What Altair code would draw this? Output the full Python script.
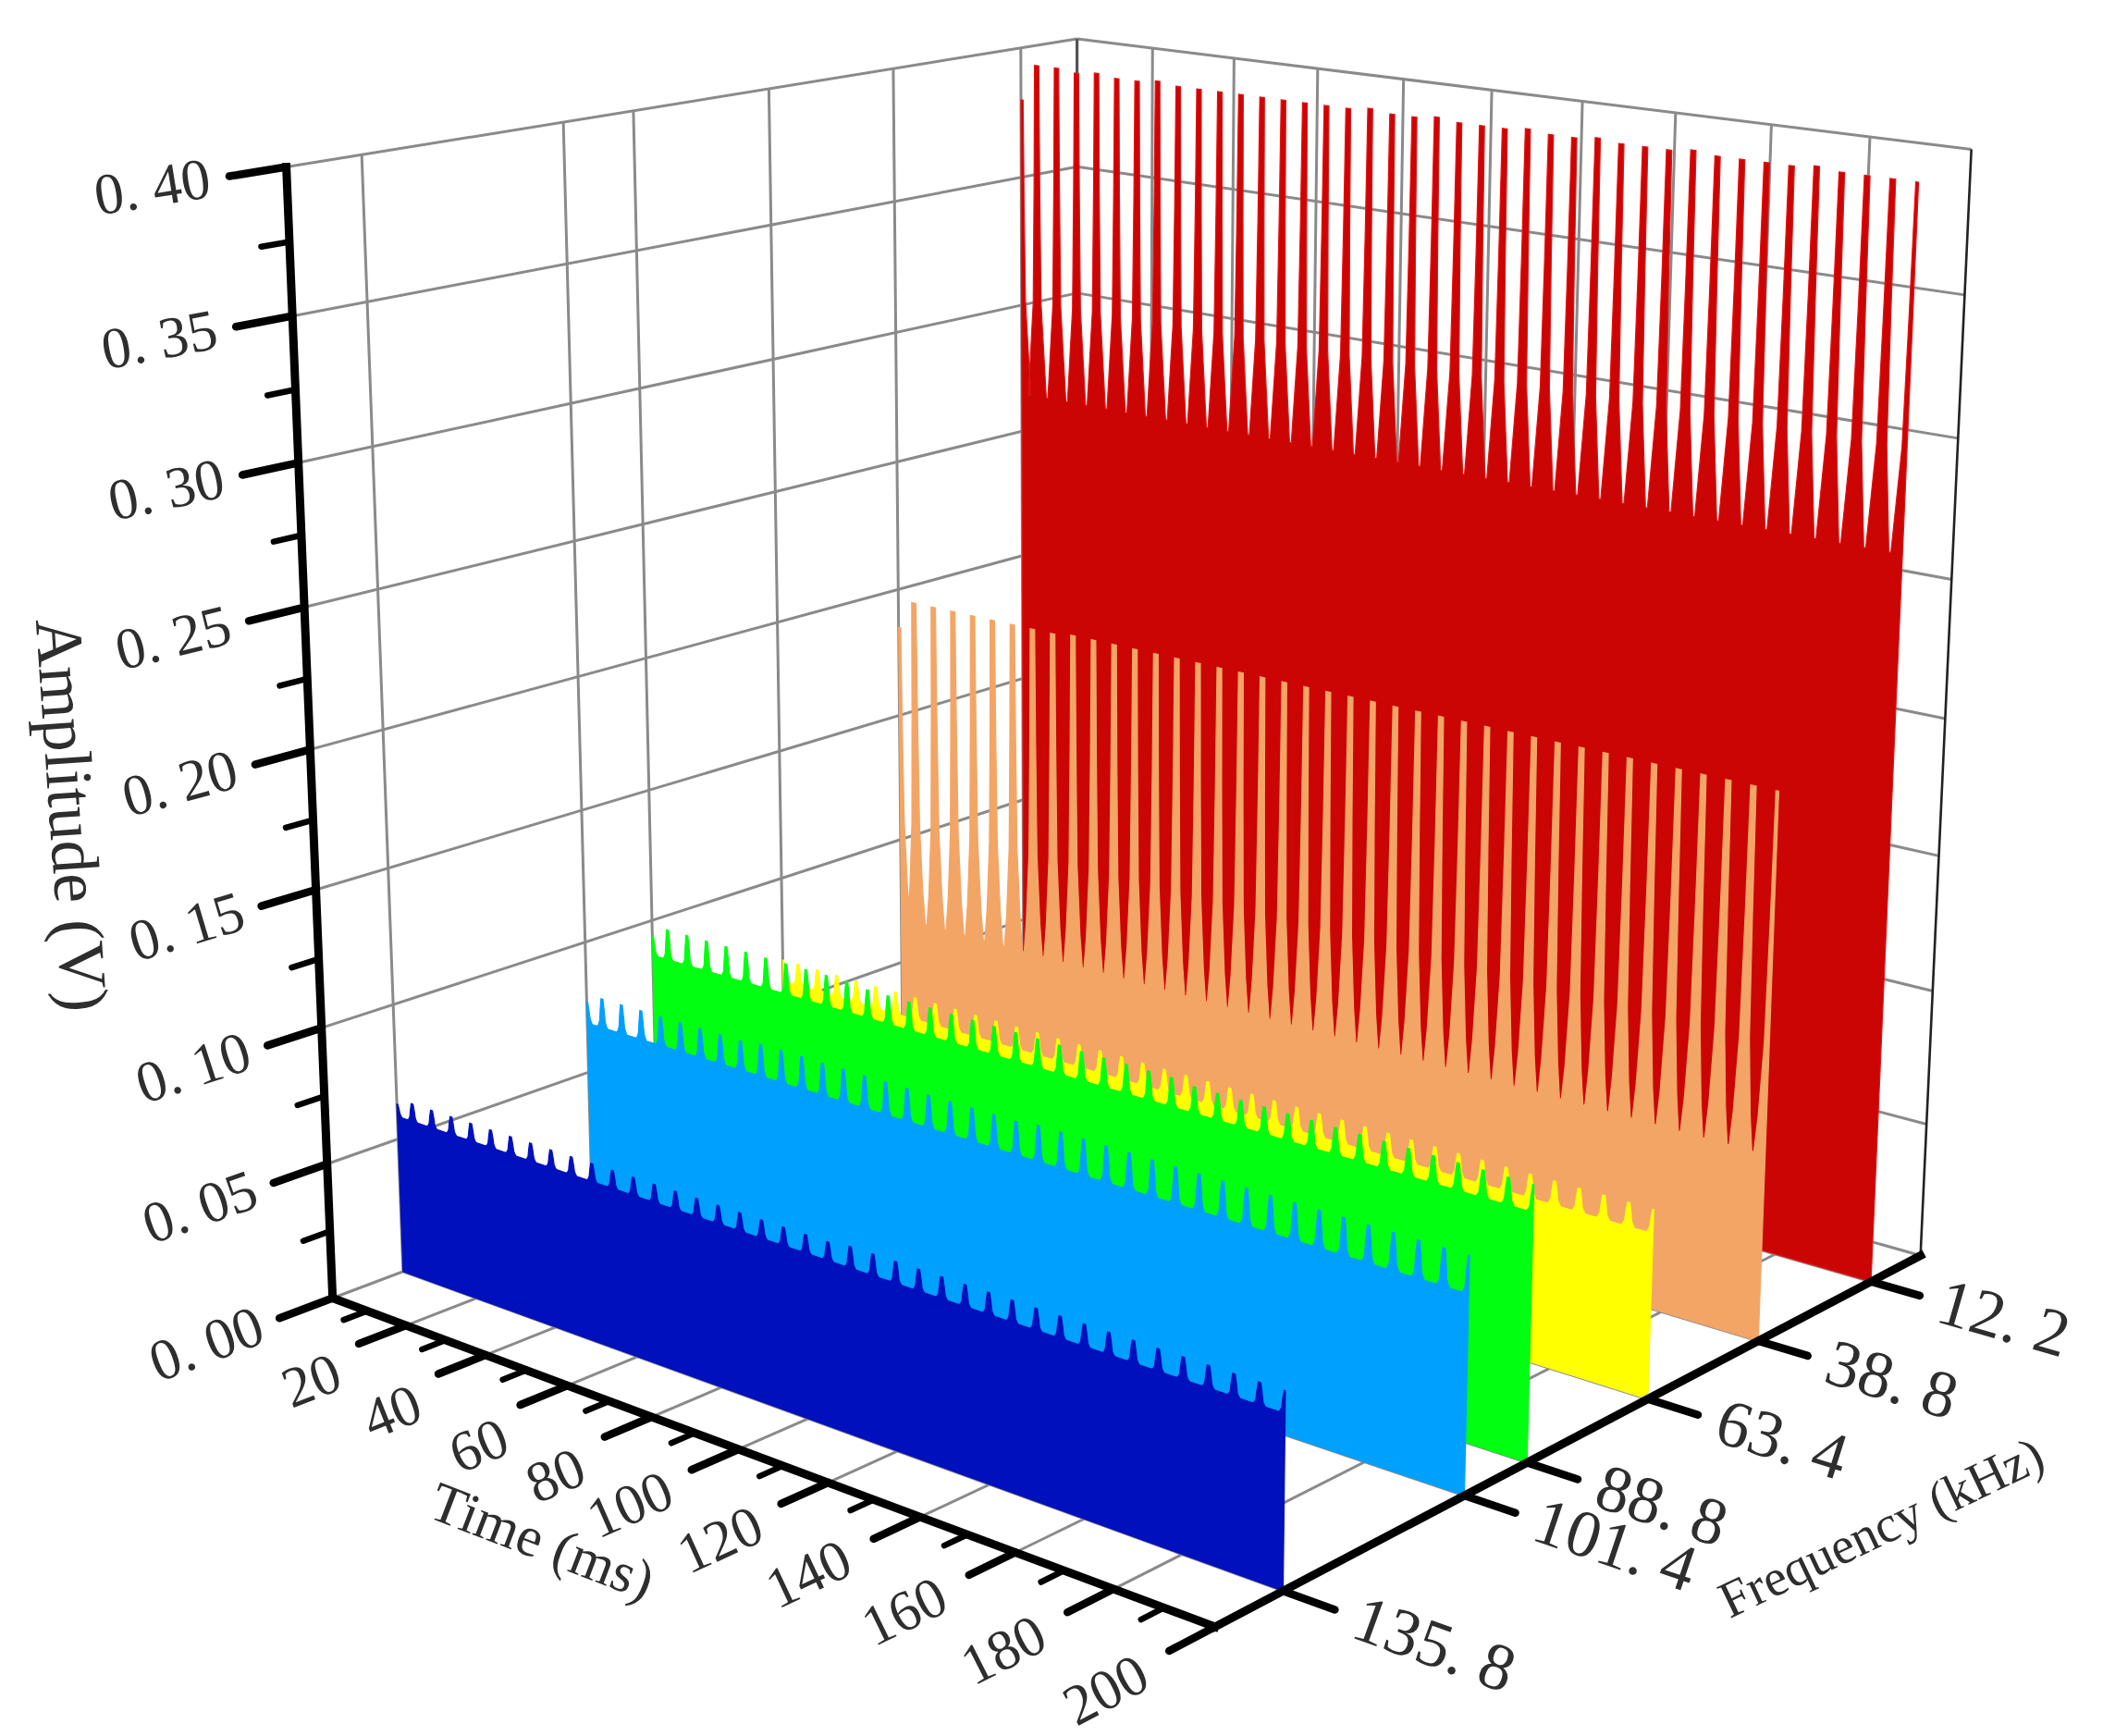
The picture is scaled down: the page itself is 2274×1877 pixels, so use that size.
import altair as alt
import numpy as np
import pandas as pd
import math

# one wall per carrier frequency, back to front
freqs = [12.2, 38.8, 63.4, 88.8, 101.4, 135.8]
freq_labels = ["12. 2", "38. 8", "63. 4", "88. 8", "101. 4", "135. 8"]
wall_colors = ["#cb0404", "#f3a566", "#ffff00", "#00ff10", "#00a0ff", "#0010bc"]
wall_strokes = ["#e41212", "#f3a566", "#ffff00", "#00ff10", "#00a0ff", "#0010bc"]

pulse_times = [1, 5, 10, 15, 20, 25, 30, 35, 40, 45, 50, 55, 60, 65, 70, 75, 80, 85, 90, 95, 100,
               105, 110, 115, 120, 125, 130, 135, 140, 145, 150, 155, 160, 165, 170, 175, 180,
               185, 190, 195, 200]

peak_red = [0.380, 0.394, 0.394, 0.393, 0.394, 0.393, 0.393, 0.394, 0.393, 0.393, 0.393, 0.393,
            0.393, 0.393, 0.393, 0.393, 0.393, 0.394, 0.393, 0.393, 0.394, 0.393, 0.393, 0.393,
            0.394, 0.393, 0.393, 0.394, 0.393, 0.393, 0.393, 0.394, 0.393, 0.393, 0.393, 0.393,
            0.394, 0.393, 0.393, 0.393, 0.393]
peak_orange = [0.185, 0.196, 0.196, 0.196, 0.196, 0.196, 0.196, 0.196, 0.196, 0.197, 0.197, 0.197,
               0.197, 0.197, 0.197, 0.197, 0.197, 0.197, 0.197, 0.197, 0.197, 0.197, 0.197, 0.197,
               0.197, 0.197, 0.197, 0.197, 0.197, 0.197, 0.197, 0.197, 0.197, 0.197, 0.197, 0.197,
               0.197, 0.197, 0.197, 0.197, 0.197]
peak_yellow = [0.0675, 0.0675, 0.0675, 0.0675, 0.0675, 0.0675, 0.0675, 0.0675, 0.0675, 0.0675, 0.0675,
               0.0675, 0.0675, 0.0675, 0.0675, 0.0675, 0.0675, 0.0675, 0.0675, 0.0675, 0.0675, 0.0675,
               0.0675, 0.0675, 0.0675, 0.0675, 0.0675, 0.0675, 0.0675, 0.0675, 0.0675, 0.0675, 0.0675,
               0.0675, 0.0675, 0.0675, 0.0675, 0.0675, 0.0675, 0.0675, 0.0675]
peak_green = [0.094, 0.098, 0.098, 0.098, 0.098, 0.098, 0.098, 0.098, 0.098, 0.098, 0.098, 0.097,
              0.097, 0.097, 0.097, 0.097, 0.097, 0.097, 0.097, 0.097, 0.097, 0.097, 0.097, 0.097,
              0.097, 0.097, 0.096, 0.096, 0.096, 0.096, 0.096, 0.096, 0.096, 0.096, 0.096, 0.096,
              0.096, 0.096, 0.096, 0.096, 0.096]
peak_lblue = [0.077, 0.080, 0.080, 0.080, 0.080, 0.080, 0.080, 0.080, 0.080, 0.081, 0.081, 0.081,
              0.081, 0.081, 0.081, 0.081, 0.081, 0.081, 0.081, 0.081, 0.081, 0.081, 0.082, 0.082,
              0.082, 0.082, 0.082, 0.082, 0.082, 0.082, 0.082, 0.082, 0.082, 0.082, 0.082, 0.082,
              0.082, 0.082, 0.082, 0.082, 0.082]
peak_blue = [0.063, 0.065, 0.065, 0.065, 0.065, 0.065, 0.065, 0.065, 0.065, 0.065, 0.065, 0.065,
             0.065, 0.065, 0.065, 0.065, 0.065, 0.065, 0.065, 0.065, 0.065, 0.065, 0.066, 0.066,
             0.066, 0.066, 0.066, 0.066, 0.066, 0.066, 0.066, 0.066, 0.066, 0.066, 0.066, 0.066,
             0.066, 0.066, 0.066, 0.066, 0.066]
wall_peaks = [peak_red, peak_orange, peak_yellow, peak_green, peak_lblue, peak_blue]

# shoulder levels of the pulses (V): upper shoulder, lower shoulder, solid body
wall_upper = [0.302, 0.108, 0.0610, 0.0885, 0.0715, 0.0600]
wall_lower = [0.282, 0.081, 0.0600, 0.0873, 0.0700, 0.0590]
wall_body = [0.265, 0.068, 0.0590, 0.0865, 0.0690, 0.0585]

amp_major = [0.00, 0.05, 0.10, 0.15, 0.20, 0.25, 0.30, 0.35, 0.40]
amp_minor = [0.025, 0.075, 0.125, 0.175, 0.225, 0.275, 0.325, 0.375]
time_major = [20, 40, 60, 80, 100, 120, 140, 160, 180, 200]
time_minor = [10, 30, 50, 70, 90, 110, 130, 150, 170, 190]
time_label_nudge = [5, 5, 6, 4, 1, 1, 0, 0, 0, 0]

t0, t1 = 1, 200
f0, f1 = 0, 148
z0, z1 = 0, 0.4

W, H = 2258, 1855

# where the box corners sit in the picture; the camera is fitted to them
cam_world = [(t0, f1, z0), (t0, f1, z1), (t0, f0, z1), (t1, f0, z1), (t1, f0, z0), (t1, f1, z0)]
cam_pixel = [(360, 1404), (310, 180), (1164, 42), (2132, 162), (2077, 1357), (1313, 1759)]


def norm(t, f, z):
    return [t / 200, f / 150, z / 0.4, 1.0]


rows = []
for w, p in zip(cam_world, cam_pixel):
    X = norm(*w)
    u, v = p[0] / 1000, p[1] / 1000
    rows.append(X + [0, 0, 0, 0] + [-u * a for a in X])
    rows.append([0, 0, 0, 0] + X + [-v * a for a in X])
CAM = np.linalg.svd(np.array(rows))[2][-1].reshape(3, 4)


def project(t, f, z):
    h = CAM @ np.array(norm(t, f, z))
    return h[0] / h[2] * 1000, h[1] / h[2] * 1000


def segments(pairs):
    out = []
    for a, b in pairs:
        x, y = project(*a)
        x2, y2 = project(*b)
        out.append({"x": x, "y": y, "x2": x2, "y2": y2})
    return pd.DataFrame(out)


def seg_layer(pairs, color, width, cap="butt"):
    return alt.Chart(segments(pairs)).mark_rule(color=color, strokeWidth=width, strokeCap=cap).encode(
        x=alt.X("x:Q", scale=xs, axis=None),
        y=alt.Y("y:Q", scale=ys, axis=None),
        x2="x2:Q",
        y2="y2:Q"
    )


def direction(a, b):
    xa, ya = project(*a)
    xb, yb = project(*b)
    return math.degrees(math.atan2(yb - ya, xb - xa))


def text_layer(rows, size, align, color="#2e2e2e"):
    df = pd.DataFrame(rows)
    df["a"] = df["a"] % 360
    return alt.Chart(df).mark_text(font="Liberation Serif", fontSize=size, align=align, baseline="middle",
                                   color=color).encode(
        x=alt.X("x:Q", scale=xs, axis=None),
        y=alt.Y("y:Q", scale=ys, axis=None),
        text="label:N",
        angle=alt.Angle("a:Q", scale=None)
    )


def label_row(label, pos, angle):
    x, y = project(*pos)
    return {"x": x, "y": y, "label": label, "a": angle}


xs = alt.Scale(domain=[8, 8 + W], nice=False, zero=False)
ys = alt.Scale(domain=[8 + H, 8], nice=False, zero=False)

# one pulse, as offsets from its centre (ms) and which level it reaches
tooth_levels = ["b", "l", "u", "m", "p", "p", "m", "u", "l", "b"]
tooth_tall = [-2.3, -1.7, -1.0, -0.72, -0.55, 0.55, 0.72, 1.0, 1.7, 2.3]
tooth_low = [-1.3, -1.0, -0.72, -0.52, -0.25, 0.25, 0.52, 0.72, 1.0, 1.3]
wall_teeth = [tooth_tall, tooth_tall, tooth_low, tooth_low, tooth_low, tooth_low]


def wall_outline(f, peaks, upper, lower, body, offsets):
    pts = [(t0, 0.0)]
    for pt, pk in zip(pulse_times, peaks):
        levels = {"b": body, "l": lower, "u": upper, "m": (upper + pk) / 2, "p": pk}
        for off, lv in zip(offsets, tooth_levels):
            t = pt + off
            if t0 <= t <= t1:
                pts.append((t, levels[lv]))
        if pt == t0:
            pts.insert(1, (t0, pk))
        if pt == t1:
            pts.append((t1, pk))
    pts.append((t1, 0.0))
    out = []
    for i, (t, z) in enumerate(pts):
        x, y = project(t, f, z)
        out.append({"x": x, "y": y, "i": i})
    return pd.DataFrame(out)


# grid on the back walls and floor
grid_pairs = []
for a in amp_major:
    grid_pairs.append(((t0, f1, a), (t0, f0, a)))
    grid_pairs.append(((t0, f0, a), (t1, f0, a)))
for f in freqs:
    grid_pairs.append(((t0, f, z0), (t0, f, z1)))
    grid_pairs.append(((t0, f, z0), (t1, f, z0)))
for t in time_major[:-1]:
    grid_pairs.append(((t, f0, z0), (t, f0, z1)))
for t in time_major:
    grid_pairs.append(((t, f0, z0), (t, f1, z0)))

layers = [seg_layer(grid_pairs, "#8a8a8a", 3)]
layers.append(seg_layer([((t0, f0, z0), (t0, f0, z1))], "#555555", 3.2))
layers.append(seg_layer([((t1, f0, z0), (t1, f0, z1))], "#222222", 2.6))

for i, f in enumerate(freqs):
    outline = wall_outline(f, wall_peaks[i], wall_upper[i], wall_lower[i], wall_body[i], wall_teeth[i])
    layers.append(alt.Chart(outline).mark_line(
        interpolate="linear-closed", fill=wall_colors[i], stroke=wall_strokes[i], strokeWidth=1.2
    ).encode(
        x=alt.X("x:Q", scale=xs, axis=None),
        y=alt.Y("y:Q", scale=ys, axis=None),
        order="i:Q"
    ))

# black axes and ticks
axis_pairs = [((t0, f1, z0), (t0, f1, z1)), ((t0, f1, z0), (t1, f1, z0)), ((t1, f1, z0), (t1, f0, z0))]
major_pairs = [((t0, f1, a), (t0, f1 + 9, a)) for a in amp_major]
major_pairs += [((t, f1, z0), (t, f1 + 8, z0)) for t in time_major]
major_pairs += [((t1, f, z0), (t1 + 10, f, z0)) for f in freqs]
minor_pairs = [((t0, f1, a), (t0, f1 + 4.5, a)) for a in amp_minor]
minor_pairs += [((t, f1, z0), (t, f1 + 4, z0)) for t in time_minor]
layers.append(seg_layer(axis_pairs, "#000000", 9, "square"))
layers.append(seg_layer(major_pairs, "#000000", 8.5, "round"))
layers.append(seg_layer(minor_pairs, "#000000", 6.5, "round"))

# tick labels and axis titles
amp_rows = [label_row("0. %02d" % round(a * 100), (t0, f1 + 12, a),
                      direction((t0, f1, a), (t0, f1 + 15, a)) + 180) for a in amp_major]
time_rows = [label_row(str(t), (t + 1.5 + n, f1 + 20, z0), direction((t, f1, z0), (t, f1 + 10, z0)) + 180)
             for t, n in zip(time_major, time_label_nudge)]
freq_rows = [label_row(lb, (t1 + 14, f, z0), direction((t1, f, z0), (t1 + 10, f, z0)))
             for lb, f in zip(freq_labels, freqs)]
layers.append(text_layer(amp_rows, 63, "right"))
layers.append(text_layer(time_rows, 62, "center"))
layers.append(text_layer(freq_rows, 72, "left"))
layers.append(text_layer([label_row("Amplitude (V)", (t0, 186, 0.2), 86)], 72, "center"))
layers.append(text_layer([label_row("Time (ms)", (102, 182, z0), 21)], 61, "center"))
layers.append(text_layer([label_row("Frequency (kHz)", (257, 77, z0), -25.5)], 56, "center"))

chart = alt.layer(*layers).properties(
    width=W, height=H, padding=0, background="white"
).configure_view(stroke=None)

chart.save("out.html", embed_options={"renderer": "svg", "actions": False})
